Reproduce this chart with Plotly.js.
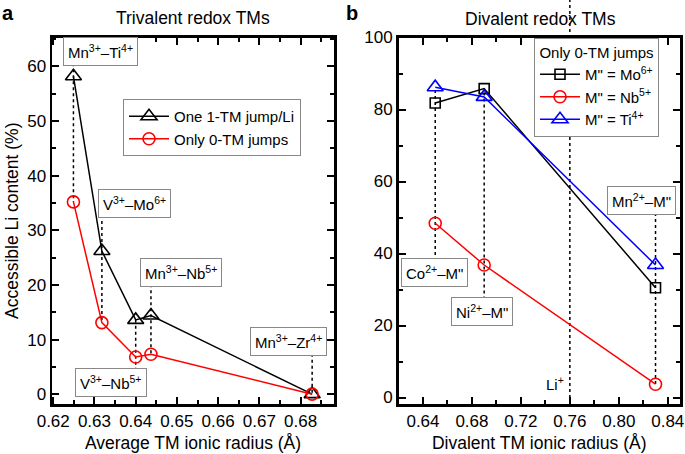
<!DOCTYPE html>
<html>
<head>
<meta charset="utf-8">
<script src="https://cdn.plot.ly/plotly-3.0.1.min.js"></script>
<style>html,body{margin:0;padding:0;background:#fff;}#chart{width:685px;height:454px;}</style>
</head>
<body>
<div id="chart"></div>
<script>
// ---------- Panel a: trivalent redox TMs ----------
const radiiA = [0.6249, 0.6318, 0.6400, 0.6437, 0.6828];
const pairsA = ['Mn<sup>3+</sup>–Ti<sup>4+</sup>', 'V<sup>3+</sup>–Mo<sup>6+</sup>', 'V<sup>3+</sup>–Nb<sup>5+</sup>', 'Mn<sup>3+</sup>–Nb<sup>5+</sup>', 'Mn<sup>3+</sup>–Zr<sup>4+</sup>'];
const oneJumpA = [58.2, 26.2, 13.6, 14.4, 0.0];
const zeroJumpA = [35.2, 13.1, 6.8, 7.3, 0.0];
const seriesNamesA = ['One 1-TM jump/Li', 'Only 0-TM jumps'];

// ---------- Panel b: divalent redox TMs ----------
const radiiB = [0.65, 0.69, 0.83];
const pairsB = ['Co<sup>2+</sup>–M"', 'Ni<sup>2+</sup>–M"', 'Mn<sup>2+</sup>–M"'];
const moB = [81.8, 85.8, 30.5];
const nbB = [48.4, 36.8, 3.7];
const tiB = [86.2, 83.5, 36.8];
const seriesNamesB = ['M" = Mo<sup>6+</sup>', 'M" = Nb<sup>5+</sup>', 'M" = Ti<sup>4+</sup>'];
const liRadius = 0.76;

// label box placement (layout, not data)
const labelPosA = [[0.6314, 62.8], [0.6397, 35.0], [0.6341, 2.1], [0.6511, 22.3], [0.6770, 9.6]];
const labelPosB = [[0.6496, 34.6], [0.6879, 23.9], [0.8187, 54.6]];

const FONT = 'Liberation Sans, Arial, Helvetica, sans-serif';
const DASH = {color: '#000', width: 1.5, dash: '3px,3px'};
const traces = [];
const annotations = [];

function guide(xv, vals, labelY, xa, ya) {
  const mx = Math.max(...vals), mn = Math.min(...vals);
  const end = labelY > mx ? mn : mx;
  traces.push({x: [xv, xv], y: [labelY, end], mode: 'lines', xaxis: xa, yaxis: ya,
    line: DASH, showlegend: false, hoverinfo: 'skip'});
}
radiiA.forEach((r, i) => guide(r, [oneJumpA[i], zeroJumpA[i]], labelPosA[i][1], 'x', 'y'));
radiiB.forEach((r, i) => guide(r, [moB[i], nbB[i], tiB[i]], labelPosB[i][1], 'x2', 'y2'));

traces.push({x: radiiA, y: oneJumpA, name: seriesNamesA[0], mode: 'lines+markers', xaxis: 'x', yaxis: 'y', legend: 'legend',
  line: {color: '#000', width: 1.5}, marker: {symbol: 'triangle-up-open', size: 14, color: '#000', line: {width: 1.6}}});
traces.push({x: radiiA, y: zeroJumpA, name: seriesNamesA[1], mode: 'lines+markers', xaxis: 'x', yaxis: 'y', legend: 'legend',
  line: {color: '#ff0000', width: 1.5}, marker: {symbol: 'circle-open', size: 12, color: '#ff0000', line: {width: 1.6}}});

traces.push({x: radiiB, y: moB, name: seriesNamesB[0], mode: 'lines+markers', xaxis: 'x2', yaxis: 'y2', legend: 'legend2',
  line: {color: '#000', width: 1.5}, marker: {symbol: 'square-open', size: 10, color: '#000', line: {width: 1.6}}});
traces.push({x: radiiB, y: nbB, name: seriesNamesB[1], mode: 'lines+markers', xaxis: 'x2', yaxis: 'y2', legend: 'legend2',
  line: {color: '#ff0000', width: 1.5}, marker: {symbol: 'circle-open', size: 12, color: '#ff0000', line: {width: 1.6}}});
traces.push({x: radiiB, y: tiB, name: seriesNamesB[2], mode: 'lines+markers', xaxis: 'x2', yaxis: 'y2', legend: 'legend2',
  line: {color: '#0000ff', width: 1.5}, marker: {symbol: 'triangle-up-open', size: 14, color: '#0000ff', line: {width: 1.6}}});

function box(text, pos, xref, yref) {
  annotations.push({text: text, x: pos[0], y: pos[1], xref: xref, yref: yref, showarrow: false,
    xanchor: 'center', yanchor: 'middle',
    bgcolor: '#fff', bordercolor: '#888', borderwidth: 1, borderpad: 4,
    font: {family: FONT, size: 15, color: '#000'}});
}
pairsA.forEach((t, i) => box(t, labelPosA[i], 'x', 'y'));
pairsB.forEach((t, i) => box(t, labelPosB[i], 'x2', 'y2'));
annotations.push({text: 'Li<sup>+</sup>', x: liRadius, y: 3.8, xref: 'x2', yref: 'y2', xanchor: 'right', xshift: -4,
  showarrow: false, font: {family: FONT, size: 15, color: '#000'}});

// titles and panel letters
annotations.push({text: 'Trivalent redox TMs', x: 193 / 685, y: 1 - 18 / 454, xref: 'paper', yref: 'paper',
  xanchor: 'center', yanchor: 'middle', showarrow: false, font: {family: FONT, size: 17.5, color: '#000'}});
annotations.push({text: 'Divalent redox TMs', x: 540 / 685, y: 1 - 19 / 454, xref: 'paper', yref: 'paper',
  xanchor: 'center', yanchor: 'middle', showarrow: false, font: {family: FONT, size: 17.5, color: '#000'}});
annotations.push({text: '<b>a</b>', x: 0, y: 1, xref: 'paper', yref: 'paper', xanchor: 'left', yanchor: 'top',
  showarrow: false, font: {family: FONT, size: 20, color: '#000'}});
annotations.push({text: '<b>b</b>', x: 344 / 685, y: 1, xref: 'paper', yref: 'paper', xanchor: 'left', yanchor: 'top',
  showarrow: false, font: {family: FONT, size: 20, color: '#000'}});

const axisCommon = {
  showline: true, linewidth: 2.5, linecolor: '#000', mirror: 'allticks',
  ticks: 'inside', ticklen: 7, tickwidth: 2, tickcolor: '#000',
  showgrid: false, zeroline: false,
  tickfont: {family: FONT, size: 17, color: '#000'}
};
function ax(extra) { return Object.assign({}, JSON.parse(JSON.stringify(axisCommon)), extra); }

const yDom = [(454 - 404) / 454, (454 - 37.5) / 454];

const layout = {
  width: 685, height: 454,
  margin: {l: 0, r: 0, t: 0, b: 0},
  paper_bgcolor: '#fff', plot_bgcolor: '#fff',
  font: {family: FONT, color: '#000'},
  xaxis: ax({domain: [52 / 685, 334 / 685], range: [0.6197, 0.6881], tick0: 0.62, dtick: 0.01, tickformat: '.2f',
    minor: {dtick: 0.005, ticks: 'inside', ticklen: 4, tickwidth: 2, tickcolor: '#000'}, anchor: 'y',
    title: {text: 'Average TM ionic radius (Å)', standoff: 7, font: {family: FONT, size: 17.5, color: '#000'}}}),
  yaxis: ax({domain: yDom, range: [-1.8, 65.3], tick0: 0, dtick: 10, anchor: 'x',
    minor: {dtick: 5, ticks: 'inside', ticklen: 4, tickwidth: 2, tickcolor: '#000'},
    title: {text: 'Accessible Li content (%)', standoff: 4, font: {family: FONT, size: 17.5, color: '#000'}}}),
  xaxis2: ax({domain: [398.5 / 685, 680 / 685], range: [0.62, 0.85], tick0: 0.64, dtick: 0.04, tickformat: '.2f', anchor: 'y2',
    minor: {dtick: 0.02, ticks: 'inside', ticklen: 4, tickwidth: 2, tickcolor: '#000'},
    title: {text: 'Divalent TM ionic radius (Å)', standoff: 7, font: {family: FONT, size: 17.5, color: '#000'}}}),
  yaxis2: ax({domain: yDom, range: [-1.8, 100], tick0: 0, dtick: 20, anchor: 'x2',
    minor: {dtick: 10, ticks: 'inside', ticklen: 4, tickwidth: 2, tickcolor: '#000'}}),
  shapes: [{type: 'line', xref: 'x2', yref: 'paper', x0: liRadius, x1: liRadius, y0: yDom[0], y1: 1,
    line: DASH, layer: 'below'}],
  legend: {x: 123 / 685, y: 1 - 99 / 454, xanchor: 'left', yanchor: 'top', bgcolor: '#fff',
    bordercolor: '#888', borderwidth: 1, itemwidth: 40, entrywidth: 190, entrywidthmode: 'pixels',
    font: {family: FONT, size: 15, color: '#000'}},
  legend2: {x: 534 / 685, y: 1 - 37.5 / 454, xanchor: 'left', yanchor: 'top', bgcolor: '#fff',
    bordercolor: '#888', borderwidth: 1, itemwidth: 40, entrywidth: 138, entrywidthmode: 'pixels',
    font: {family: FONT, size: 15, color: '#000'},
    title: {text: 'Only 0-TM jumps', side: 'top center', font: {family: FONT, size: 15, color: '#000'}}},
  annotations: annotations,
  showlegend: true
};

Plotly.newPlot('chart', traces, layout, {staticPlot: true, displayModeBar: false});
</script>
</body>
</html>
